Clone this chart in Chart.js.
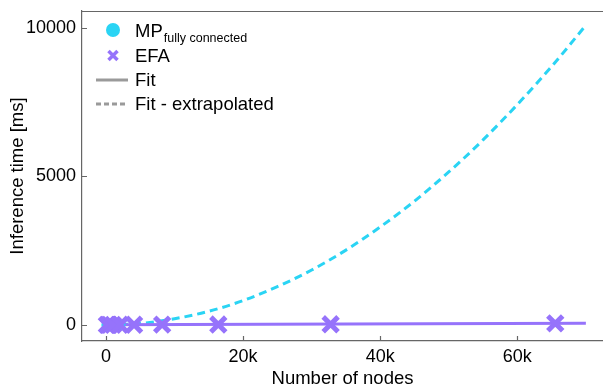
<!DOCTYPE html>
<html>
<head>
<meta charset="utf-8">
<script src="https://cdn.jsdelivr.net/npm/chart.js@4/dist/chart.umd.min.js"></script>
<style>
  html, body { margin: 0; padding: 0; background: #fff; }
  #wrap { width: 603px; height: 390px; position: relative; }
</style>
</head>
<body>
<div id="wrap"><canvas id="chart" width="603" height="390"></canvas></div>
<script>
// measured points
const mpNodes = [128, 256, 512, 1024, 2048];
const mpTimes = [1, 2, 3, 5, 9];
const efaNodes = [128, 256, 512, 1024, 2048, 4096, 8192, 16384, 32768, 65536];
const efaTimes = [2, 2, 3, 4, 5, 7, 10, 14, 22, 52];

// fits
const mpFitNodes = [0, 1024, 2048];
const mpFitTimes = [0, 2, 9];
const mpExtNodes = [2048, 5000, 10000, 15000, 20000, 25000, 30000, 35000, 40000, 45000, 50000, 55000, 60000, 65000, 70000];
const mpExtTimes = [9, 50, 210, 460, 820, 1290, 1850, 2520, 3300, 4170, 5150, 6230, 7420, 8700, 10090];
const efaFitNodes = [0, 70000];
const efaFitTimes = [3, 58];

const xTicks = [0, 20000, 40000, 60000];
const yTicks = [0, 5000, 10000];

const cyan = "#2ad4f4";
const purple = "#9673fb";
const grey = "#9a9a9a";
const axisColor = "#666";
const fontFam = "'Liberation Sans', Arial, sans-serif";

const pts = (xs, ys) => xs.map((x, i) => ({ x: x, y: ys[i] }));

// frame, inward ticks and legend
const extras = {
  id: "extras",
  afterDraw(chart) {
    const ctx = chart.ctx;
    const a = chart.chartArea;
    const xs = chart.scales.x, ys = chart.scales.y;
    ctx.save();
    ctx.strokeStyle = axisColor;
    ctx.lineWidth = 1.2;
    ctx.beginPath();
    ctx.moveTo(a.left, a.top + 0.5);
    ctx.lineTo(a.right, a.top + 0.5);
    xTicks.forEach((t) => {
      const px = Math.round(xs.getPixelForValue(t)) + 0.5;
      ctx.moveTo(px, a.bottom);
      ctx.lineTo(px, a.bottom - 5);
    });
    yTicks.forEach((t) => {
      const py = Math.round(ys.getPixelForValue(t)) + 0.5;
      ctx.moveTo(a.left, py);
      ctx.lineTo(a.left + 5, py);
    });
    ctx.stroke();

    // legend
    const lx = 113, tx = 135;
    ctx.fillStyle = cyan;
    ctx.beginPath();
    ctx.arc(lx, 30, 7, 0, Math.PI * 2);
    ctx.fill();

    ctx.strokeStyle = purple;
    ctx.lineWidth = 3.5;
    ctx.beginPath();
    ctx.moveTo(lx - 4.5, 51); ctx.lineTo(lx + 4.5, 60);
    ctx.moveTo(lx + 4.5, 51); ctx.lineTo(lx - 4.5, 60);
    ctx.stroke();

    ctx.strokeStyle = grey;
    ctx.lineWidth = 3;
    ctx.beginPath();
    ctx.moveTo(96, 80); ctx.lineTo(128, 80);
    ctx.stroke();
    ctx.setLineDash([5, 3]);
    ctx.beginPath();
    ctx.moveTo(96, 104); ctx.lineTo(128, 104);
    ctx.stroke();
    ctx.setLineDash([]);

    ctx.fillStyle = "#000";
    ctx.textBaseline = "alphabetic";
    ctx.font = "18.5px " + fontFam;
    ctx.fillText("MP", tx, 37);
    const w = ctx.measureText("MP").width;
    ctx.font = "12.5px " + fontFam;
    ctx.fillText("fully connected", tx + w + 1, 42);
    ctx.font = "18.5px " + fontFam;
    ctx.fillText("EFA", tx, 62);
    ctx.fillText("Fit", tx, 86);
    ctx.fillText("Fit - extrapolated", tx, 110);
    ctx.restore();
  }
};

new Chart(document.getElementById("chart"), {
  type: "scatter",
  data: {
    datasets: [
      {
        label: "MP fit",
        type: "line",
        data: pts(mpFitNodes, mpFitTimes),
        borderColor: cyan,
        borderWidth: 3,
        pointRadius: 0,
        showLine: true,
        order: 4
      },
      {
        label: "MP fit extrapolated",
        type: "line",
        data: pts(mpExtNodes, mpExtTimes),
        borderColor: cyan,
        borderWidth: 3,
        borderDash: [8, 5],
        pointRadius: 0,
        cubicInterpolationMode: "monotone",
        showLine: true,
        order: 4
      },
      {
        label: "EFA fit",
        type: "line",
        data: pts(efaFitNodes, efaFitTimes),
        borderColor: purple,
        borderWidth: 3,
        pointRadius: 0,
        showLine: true,
        order: 3
      },
      {
        label: "MP",
        data: pts(mpNodes, mpTimes),
        backgroundColor: cyan,
        borderColor: cyan,
        pointRadius: 5,
        order: 2
      },
      {
        label: "EFA",
        data: pts(efaNodes, efaTimes),
        pointStyle: "crossRot",
        borderColor: purple,
        borderWidth: 5,
        pointRadius: 10.5,
        order: 1
      }
    ]
  },
  options: {
    responsive: false,
    animation: false,
    layout: { autoPadding: false, padding: { top: 11, right: 0, left: 0, bottom: 0 } },
    plugins: {
      legend: { display: false },
      tooltip: { enabled: false }
    },
    scales: {
      x: {
        type: "linear",
        min: -3500,
        max: 72500,
        afterBuildTicks: (s) => { s.ticks = xTicks.map((v) => ({ value: v })); },
        afterFit: (s) => { s.height = 49; s.paddingLeft = 0; s.paddingRight = 0; },
        grid: { display: false, drawTicks: false },
        border: { display: true, color: axisColor, width: 1.2 },
        ticks: {
          padding: 5,
          color: "#000",
          font: { family: fontFam, size: 18 },
          maxRotation: 0,
          callback: (v) => (v === 0 ? "0" : v / 1000 + "k")
        },
        title: {
          display: true,
          text: "Number of nodes",
          color: "#000",
          font: { family: fontFam, size: 18.5 },
          padding: { top: 0, bottom: 0 }
        }
      },
      y: {
        type: "linear",
        min: -540,
        max: 10570,
        afterBuildTicks: (s) => { s.ticks = yTicks.map((v) => ({ value: v })); },
        afterFit: (s) => { s.width = 82; s.paddingTop = 0; s.paddingBottom = 0; },
        grid: { display: false, drawTicks: false },
        border: { display: true, color: axisColor, width: 1.2 },
        ticks: {
          padding: 6,
          color: "#000",
          font: { family: fontFam, size: 18 },
          callback: (v) => String(v)
        },
        title: {
          display: true,
          text: "Inference time [ms]",
          color: "#000",
          font: { family: fontFam, size: 18.5 },
          padding: { top: 7, bottom: 0 }
        }
      }
    }
  },
  plugins: [extras]
});
</script>
</body>
</html>
